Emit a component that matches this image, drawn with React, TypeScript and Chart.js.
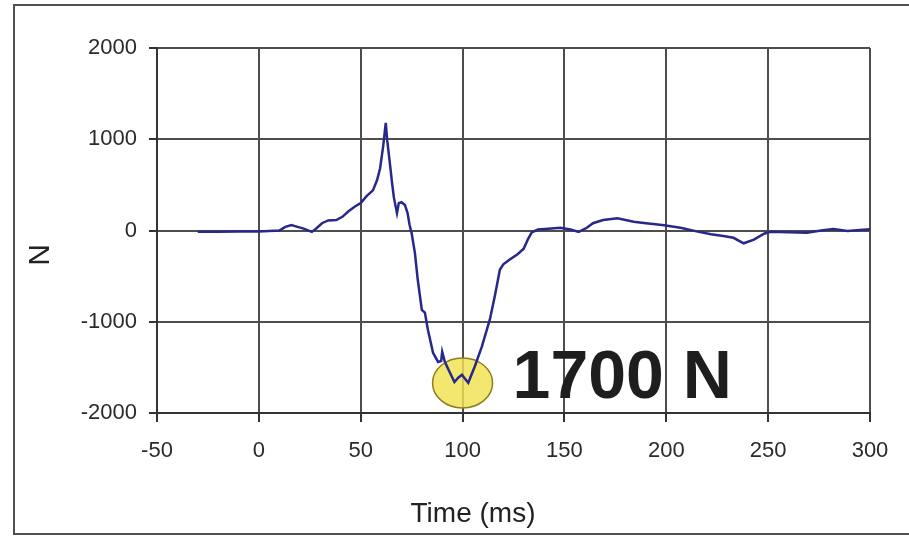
import React, { useEffect, useRef } from "react";
import { Chart, registerables } from "chart.js";

Chart.register(...registerables);

const timeMs = [
  -30, -20, -10, 0, 5, 10, 13, 16, 19, 22, 26, 28, 31, 34, 38, 41, 44, 47, 50, 53,
  56, 58, 59.5, 61, 62.3, 63, 64.5, 65.5, 66.3, 67.8, 68.7, 70, 71.7, 73, 74, 75,
  76.6, 78, 80, 81.5, 83, 85.5, 88, 89.5, 90, 91.3, 93, 96, 98, 99.7, 101, 102.8,
  104, 106, 109.5, 113.4, 116, 118.3, 120, 123, 127, 130, 132, 134, 137, 142, 148,
  153, 157, 161, 164, 169, 176, 184, 190, 198, 207, 216, 222, 228, 233, 238, 243,
  248, 251, 260, 269, 276, 282, 289, 295, 300,
];
const forceN = [
  -15, -15, -10, -10, -5, 0, 40, 60, 40, 20, -15, 20, 80, 110, 115, 150, 210, 260, 300, 380,
  440, 550, 680, 920, 1180, 990, 700, 500, 360, 190, 300, 310, 280, 190, 60, -30,
  -245, -540, -870, -900, -1090, -1340, -1440, -1430, -1330, -1440, -1520, -1660, -1610, -1580, -1620, -1670,
  -1600, -1490, -1270, -975, -700, -430, -370, -320, -260, -200, -100, -20, 10, 20, 30,
  10, -15, 30, 80, 115, 135, 95, 80, 60, 30, -15, -40, -60, -80, -140, -100,
  -35, -15, -20, -25, 0, 15, -5, 5, 15,
];
const xTicks = [-50, 0, 50, 100, 150, 200, 250, 300];
const yTicks = [-2000, -1000, 0, 1000, 2000];
const xTitle = "Time (ms)";
const yTitle = "N";
const peakLabel = "1700 N";
const peakTime = 100;
const peakForce = -1670;

const mainFont = "'Liberation Sans', Arial, sans-serif";

export default function App() {
  const ref = useRef<HTMLCanvasElement>(null);

  useEffect(() => {
    if (!ref.current) return;
    const deco = {
      id: "deco",
      beforeDraw(chart: any) {
        const ctx = chart.ctx;
        ctx.save();
        ctx.fillStyle = "#ffffff";
        ctx.fillRect(0, 0, chart.width, chart.height);
        ctx.strokeStyle = "#505050";
        ctx.lineWidth = 2;
        ctx.strokeRect(14, 5, chart.width + 20, 529);
        ctx.restore();
      },
      beforeDatasetsDraw(chart: any) {
        const ctx = chart.ctx;
        const xs = chart.scales.x;
        const ys = chart.scales.y;
        const cx = xs.getPixelForValue(peakTime);
        const cy = ys.getPixelForValue(peakForce);
        ctx.save();
        ctx.beginPath();
        ctx.ellipse(cx, cy, 30, 25, 0, 0, Math.PI * 2);
        ctx.fillStyle = "rgba(240, 226, 80, 0.82)";
        ctx.fill();
        ctx.strokeStyle = "#8c7d1e";
        ctx.lineWidth = 1.5;
        ctx.stroke();
        ctx.restore();
      },
      afterDatasetsDraw(chart: any) {
        const ctx = chart.ctx;
        const xs = chart.scales.x;
        const ys = chart.scales.y;
        const cx = xs.getPixelForValue(peakTime);
        const cy = ys.getPixelForValue(peakForce);
        ctx.save();
        ctx.fillStyle = "#1e1e1e";
        ctx.font = `bold 68px ${mainFont}`;
        ctx.textAlign = "left";
        ctx.textBaseline = "alphabetic";
        ctx.fillText(peakLabel, cx + 50, cy + 15);
        ctx.restore();
      },
      afterDraw(chart: any) {
        const ctx = chart.ctx;
        ctx.save();
        ctx.fillStyle = "#222222";
        ctx.font = `28px ${mainFont}`;
        ctx.textAlign = "center";
        ctx.textBaseline = "alphabetic";
        ctx.fillText(xTitle, 473, 522);
        ctx.translate(41, 255);
        ctx.rotate(-Math.PI / 2);
        ctx.font = `30px ${mainFont}`;
        ctx.textBaseline = "middle";
        ctx.fillText(yTitle, 0, 0);
        ctx.restore();
      },
    };

    const chart = new Chart(ref.current, {
      type: "line",
      data: {
        datasets: [
          {
            data: timeMs.map((t, i) => ({ x: t, y: forceN[i] })),
            borderColor: "#28288c",
            borderWidth: 2.5,
            pointRadius: 0,
            tension: 0,
            fill: false,
          },
        ],
      },
      options: {
        responsive: false,
        animation: false,
        layout: { padding: { top: 48, right: 39, left: 0, bottom: 0 } },
        plugins: { legend: { display: false }, tooltip: { enabled: false } },
        scales: {
          x: {
            type: "linear",
            min: -50,
            max: 300,
            afterBuildTicks: (s: any) => {
              s.ticks = xTicks.map((v) => ({ value: v }));
            },
            afterFit: (s: any) => {
              s.height = 124;
            },
            grid: { color: "#4d4d4d", lineWidth: 2, tickLength: 9, tickColor: "#333333" },
            border: { color: "#333333", width: 2 },
            ticks: {
              font: { family: mainFont, size: 22 },
              color: "#2a2a2a",
              padding: 16,
              maxRotation: 0,
              autoSkip: false,
              callback: (v: any) => String(v),
            },
          },
          y: {
            type: "linear",
            min: -2000,
            max: 2000,
            afterBuildTicks: (s: any) => {
              s.ticks = yTicks.map((v) => ({ value: v }));
            },
            afterFit: (s: any) => {
              s.width = 157;
            },
            grid: { color: "#4d4d4d", lineWidth: 2, tickLength: 8, tickColor: "#333333" },
            border: { color: "#333333", width: 2 },
            ticks: {
              font: { family: mainFont, size: 22 },
              color: "#2a2a2a",
              padding: 12,
              autoSkip: false,
              callback: (v: any) => String(v),
            },
          },
        },
      },
      plugins: [deco],
    } as any);

    return () => chart.destroy();
  }, []);

  return (
    <div style={{ position: "fixed", left: 0, top: 0, width: 909, height: 537, background: "#fff" }}>
      <canvas ref={ref} width={909} height={537} style={{ display: "block", width: 909, height: 537 }} />
    </div>
  );
}
